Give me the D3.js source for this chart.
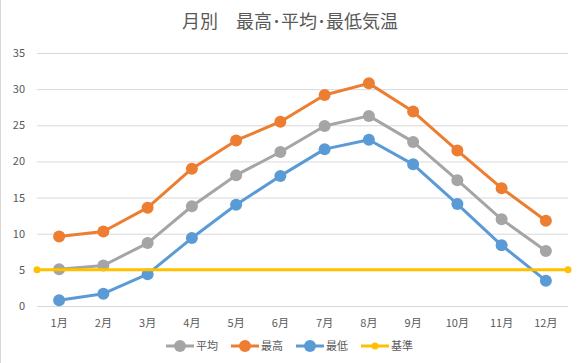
<!DOCTYPE html>
<html><head><meta charset="utf-8">
<script src="https://cdn.jsdelivr.net/npm/d3@7"></script>
<style>body{margin:0;background:#fff}svg{display:block}text{font-family:"Noto Sans CJK JP","Noto Sans",sans-serif}</style>
</head><body><svg id="c" width="578" height="363"></svg>
<script>
const months = ["1月","2月","3月","4月","5月","6月","7月","8月","9月","10月","11月","12月"];
const avgT = [5.1,5.6,8.7,13.8,18.1,21.3,24.9,26.3,22.7,17.4,12.0,7.6];
const maxT = [9.6,10.3,13.6,19.0,22.9,25.5,29.2,30.8,26.9,21.5,16.3,11.8];
const minT = [0.8,1.7,4.4,9.4,14.0,18.0,21.7,23.0,19.6,14.1,8.4,3.5];
const baseT = 5;
const yTicks = [0,5,10,15,20,25,30,35];
const seriesNames = ["平均","最高","最低","基準"];
const title = "月別　最高･平均･最低気温";

const svg = d3.select("#c");
const L = 37, R = 568, T = 53, B = 306;
const x = d3.scaleBand().domain(months).range([L,R]);
const y = d3.scaleLinear().domain([0,35]).range([B,T]);
const col = {"平均":"#A5A5A5","最高":"#ED7D31","最低":"#5B9BD5","基準":"#FFC000"};

svg.append("line").attr("x1",0.5).attr("x2",0.5).attr("y1",0).attr("y2",363).attr("stroke","#d9d9d9");

svg.append("text").attr("x",290).attr("y",28).attr("text-anchor","middle")
  .attr("font-size",18).attr("fill","#595959").text(title);

const yAxis = svg.append("g").attr("transform",`translate(${L},0)`)
  .call(d3.axisLeft(y).tickValues(yTicks).tickSize(-(R-L)).tickFormat(d3.format("d")));
yAxis.select(".domain").remove();
yAxis.selectAll(".tick line").attr("stroke","#d9d9d9");
yAxis.selectAll(".tick text").attr("x",-12).attr("fill","#595959").attr("font-size",11);

const xAxis = svg.append("g").attr("transform",`translate(0,${B})`)
  .call(d3.axisBottom(x).tickSize(0));
xAxis.select(".domain").remove();
xAxis.selectAll(".tick text").attr("dy",0).attr("y",21).attr("fill","#595959").attr("font-size",11);

const cx = d => x(d) + x.bandwidth()/2;
const line = d3.line().x(d=>cx(d.m)).y(d=>y(d.v));
const data = [["平均",avgT],["最高",maxT],["最低",minT]];
data.forEach(([n,vals])=>{
  const pts = months.map((m,i)=>({m,v:vals[i]}));
  svg.append("path").datum(pts).attr("d",line).attr("fill","none")
    .attr("stroke",col[n]).attr("stroke-width",3).attr("stroke-linejoin","round");
  svg.selectAll(null).data(pts).enter().append("circle")
    .attr("cx",d=>cx(d.m)).attr("cy",d=>y(d.v)).attr("r",6).attr("fill",col[n]);
});
// baseline
svg.append("line").attr("x1",L).attr("x2",R).attr("y1",y(baseT)).attr("y2",y(baseT))
  .attr("stroke",col["基準"]).attr("stroke-width",3);
[L,R].forEach(px=>svg.append("circle").attr("cx",px).attr("cy",y(baseT)).attr("r",3.5).attr("fill",col["基準"]));

// legend
const lg = svg.append("g").attr("transform","translate(166,346)");
seriesNames.forEach((n,i)=>{
  const g = lg.append("g").attr("transform",`translate(${i*65},0)`);
  g.append("line").attr("x1",0).attr("x2",28).attr("stroke",col[n]).attr("stroke-width",3);
  g.append("circle").attr("cx",14).attr("r",n==="基準"?3.5:6).attr("fill",col[n]);
  g.append("text").attr("x",30).attr("y",4).attr("font-size",11).attr("fill","#595959").text(n);
});
</script></body></html>
